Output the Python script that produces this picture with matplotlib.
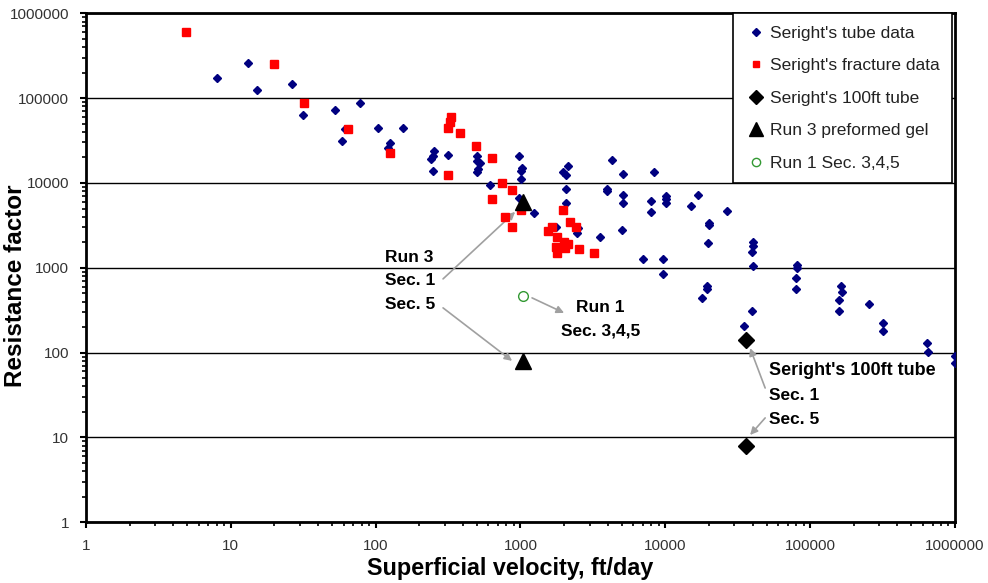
import matplotlib
matplotlib.use('Agg')
import matplotlib.pyplot as plt
from matplotlib.ticker import LogLocator, FuncFormatter, NullFormatter

plt.rcParams['font.family'] = ['Liberation Sans', 'DejaVu Sans']

# Seright's tube data (ft/day, resistance factor)
tube_x = [8.0, 13.1, 15.2, 26.5, 31.6, 52, 78, 61, 59, 104, 155, 126, 121,
          253, 249, 242, 250, 315, 500, 504, 523, 500, 510, 617, 983, 1030,
          1010, 1010, 983, 1240, 2140, 1960, 2065, 2050, 2050, 2510, 2440,
          1760, 3550, 4270, 5140, 3950, 3950, 5140, 5140, 5000, 8370, 7980,
          7980, 10080, 10080, 10080, 7000, 9700, 9700, 15100, 16900, 26600,
          20100, 20100, 19700, 19500, 19500, 17900, 40600, 40600, 39500,
          40300, 39500, 35200, 80900, 80900, 80000, 80000, 163000, 165000,
          158000, 158000, 255000, 319000, 319000, 640000, 650000, 1000000,
          1000000]
tube_y = [175000, 256000, 125000, 146000, 64000, 73000, 88000, 43000, 31300,
          44600, 44600, 29700, 25500, 23900, 20900, 19200, 14000, 21400,
          21000, 18200, 17100, 13600, 14700, 9500, 21000, 15200, 13900,
          11100, 6620, 4480, 15900, 13600, 12500, 8510, 5780, 2930, 2560,
          3010, 2300, 18400, 12600, 8450, 8000, 7240, 5870, 2800, 13400,
          6150, 4530, 7050, 6440, 5780, 1270, 1270, 840, 5370, 7180, 4730,
          3410, 3180, 1970, 612, 569, 442, 2000, 1830, 1530, 1050, 310, 208,
          1080, 990, 766, 564, 612, 524, 422, 310, 375, 222, 182, 129, 101,
          91, 76]

# Seright's fracture data
frac_x = [4.9, 19.9, 32, 64.5, 126, 317, 326, 333, 381, 317, 493, 640, 743,
          632, 875, 779, 875, 1010, 1960, 2180, 2420, 1640, 1560, 1800, 1990,
          2140, 2040, 1750, 1800, 2530, 3210]
frac_y = [605000, 254000, 87000, 43400, 22600, 45000, 53000, 60700, 38700,
          12500, 27400, 19800, 9950, 6440, 8300, 4020, 3010, 4820, 4820, 3510,
          3010, 3010, 2750, 2300, 2040, 1910, 1700, 1750, 1490, 1670, 1510]

# Seright's 100ft tube (Sec. 1, Sec. 5)
tube100_x = [36000, 36000]
tube100_y = [141, 8]

# Run 3 preformed gel (Sec. 1, Sec. 5)
run3_x = [1047, 1047]
run3_y = [6000, 80]

# Run 1 Sec. 3,4,5
run1_x = [1047]
run1_y = [470]

fig = plt.figure(figsize=(9.88, 5.83), dpi=100)
ax = fig.add_axes([0.087, 0.1041, 0.8796, 0.8731])

ax.plot(tube_x, tube_y, 'D', color='#000080', ms=4.5, mec='#000080',
        label="Seright's tube data", zorder=3)
ax.plot(frac_x, frac_y, 's', color='#ff0000', ms=5.5, mec='#ff0000',
        label="Seright's fracture data", zorder=4)
ax.plot(tube100_x, tube100_y, 'D', color='black', ms=8.5,
        label="Seright's 100ft tube", zorder=5)
ax.plot(run3_x, run3_y, '^', color='black', ms=12,
        label="Run 3 preformed gel", zorder=5)
ax.plot(run1_x, run1_y, 'o', mfc='white', mec='#339933', ms=7, mew=1,
        label="Run 1 Sec. 3,4,5", zorder=5)

ax.set_xscale('log')
ax.set_yscale('log')
ax.set_xlim(1, 1e6)
ax.set_ylim(1, 1e6)

fmt = FuncFormatter(lambda v, p: '%d' % round(v))
ax.xaxis.set_major_locator(LogLocator(base=10, numticks=10))
ax.yaxis.set_major_locator(LogLocator(base=10, numticks=10))
ax.xaxis.set_minor_locator(LogLocator(base=10, subs=range(2, 10), numticks=20))
ax.yaxis.set_minor_locator(LogLocator(base=10, subs=range(2, 10), numticks=20))
ax.xaxis.set_major_formatter(fmt)
ax.yaxis.set_major_formatter(fmt)
ax.xaxis.set_minor_formatter(NullFormatter())
ax.yaxis.set_minor_formatter(NullFormatter())
ax.tick_params(which='major', direction='out', length=4, width=1.5,
               labelsize=11, labelcolor='#333333', pad=8)
ax.tick_params(which='minor', direction='out', length=3, width=1.2)

for s in ax.spines.values():
    s.set_linewidth(2)
ax.yaxis.grid(True, which='major', color='black', lw=1)
ax.set_axisbelow(True)

ax.set_xlabel('Superficial velocity, ft/day', fontsize=16.8, fontweight='bold')
ax.xaxis.set_label_coords(0.488, -0.068)
ax.set_ylabel('Resistance factor', fontsize=17.5, fontweight='bold')
ax.yaxis.set_label_coords(-0.068, 0.464)

arrow = dict(arrowstyle='-|>', color='#a0a0a0', lw=1.2, mutation_scale=11,
             shrinkA=0, shrinkB=0)
tkw = dict(fontsize=12.5, fontweight='bold', va='center')

ax.text(116, 1310, 'Run 3', ha='left', **tkw)
ax.text(116, 701, 'Sec. 1', ha='left', **tkw)
ax.text(116, 365, 'Sec. 5', ha='left', **tkw)
ax.annotate('', xy=(918, 4560), xytext=(292, 740), arrowprops=arrow)
ax.annotate('', xy=(875, 80), xytext=(292, 337), arrowprops=arrow)

ax.text(3550, 337, 'Run 1', ha='center', **tkw)
ax.text(3550, 180, 'Sec. 3,4,5', ha='center', **tkw)
ax.annotate('', xy=(2000, 294), xytext=(1202, 442), arrowprops=arrow)

ax.text(52100, 60.9, "Seright's 100ft tube", ha='left', fontsize=13,
        fontweight='bold', va='center')
ax.text(52100, 30.9, 'Sec. 1', ha='left', **tkw)
ax.text(52100, 16.5, 'Sec. 5', ha='left', **tkw)
ax.annotate('', xy=(38500, 113), xytext=(48900, 38.3), arrowprops=arrow)
ax.annotate('', xy=(38500, 10.7), xytext=(48900, 17), arrowprops=arrow)

leg = ax.legend(loc='upper right', bbox_to_anchor=(0.996, 1.0),
                borderaxespad=0, fancybox=False, framealpha=1,
                edgecolor='black', fontsize=12.5, labelspacing=1.0,
                handlelength=1.2, handletextpad=0.2, borderpad=0.7,
                markerscale=0.85)
leg.get_frame().set_linewidth(1.2)
for t in leg.get_texts():
    t.set_color('#222222')

plt.savefig('out.png', dpi=100)
